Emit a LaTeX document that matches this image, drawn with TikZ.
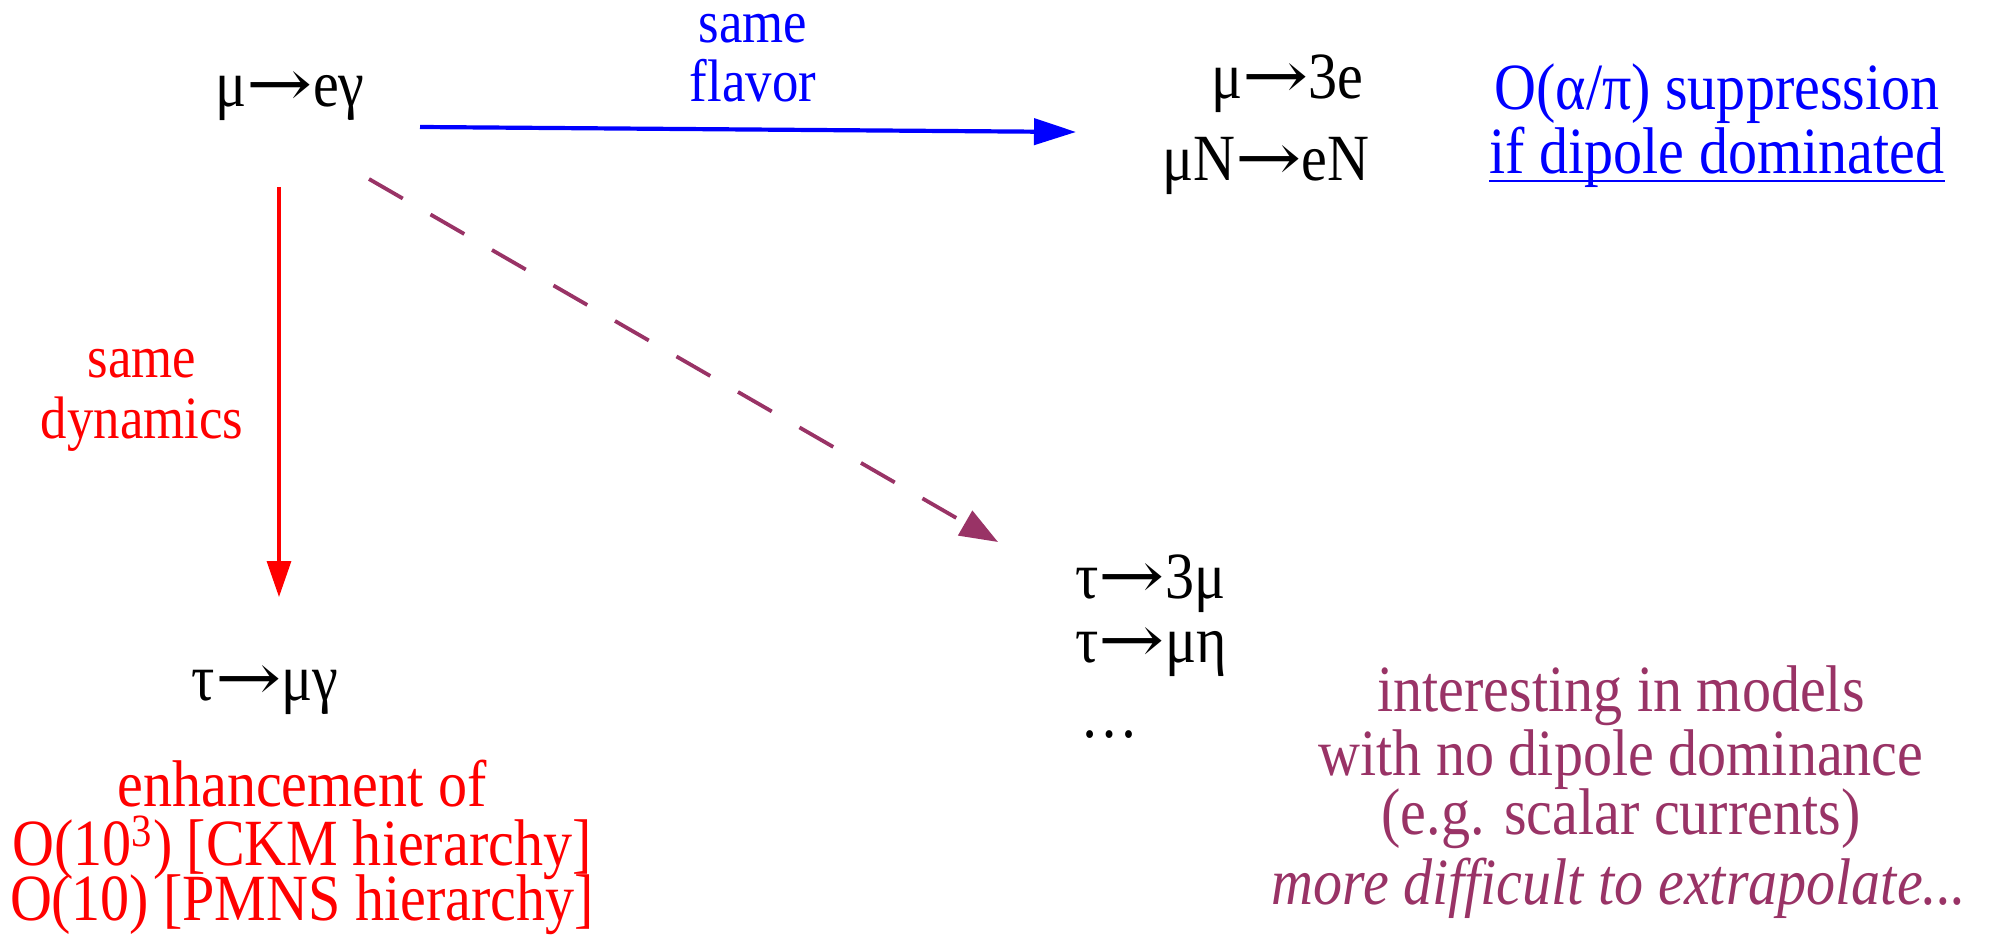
\documentclass[tikz,border=0pt]{standalone}
\usepackage{fontspec}
\setmainfont{Liberation Serif}[FakeStretch=0.88]
\newfontfamily\arrowfont{DejaVu Serif}[FakeStretch=1.2]
\newcommand{\lfvto}{{\arrowfont →}}
\usetikzlibrary{arrows.meta}
\definecolor{lfvblue}{RGB}{0,0,255}
\definecolor{lfvred}{RGB}{255,0,0}
\definecolor{lfvplum}{RGB}{153,51,102}
\begin{document}
\begin{tikzpicture}[x=0.5pt,y=-0.5pt,
  txt/.style={inner sep=0pt, anchor=base, text height=21pt, text depth=6pt, font=\fontsize{33}{38}\selectfont},
  txtw/.style={txt, anchor=base west},
  lbl/.style={inner sep=0pt, anchor=base, text height=15pt, text depth=6pt, font=\fontsize{30}{34}\selectfont},
  bluearrow/.style={draw=lfvblue, line width=2.1pt, -{Triangle[length=21pt,width=13pt]}, lfvblue},
  redarrow/.style={draw=lfvred, line width=1.6pt, -{Triangle[length=18pt,width=12pt]}, lfvred},
  plumarrow/.style={draw=lfvplum, line width=1.9pt, dash pattern=on 19.5pt off 16pt, -{Triangle[length=19pt,width=14pt]}, lfvplum}]
\useasboundingbox (0,0) rectangle (1989,946);

% main process
\node[txt] (meg) at (290,107) {μ\lfvto eγ};

% same flavor
\node[lbl, lfvblue] (sf1) at (753,43) {same};
\node[lbl, lfvblue] (sf2) at (753,102) {flavor};
\node[txt, anchor=base east] (m3e) at (1364,99) {μ\lfvto 3e};
\node[txt, anchor=base east] (mne) at (1370,181) {μN\lfvto eN};
\node[txt, lfvblue] (sup1) at (1717,110) {O(α/π) suppression};
\node[txt, lfvblue] (sup2) at (1717,174) {if dipole dominated};
\draw[lfvblue, line width=1.4pt] ([yshift=-3.5pt]sup2.base west) -- ([yshift=-3.5pt]sup2.base east);

% same dynamics
\node[lbl, lfvred] (sd1) at (142,378) {same};
\node[lbl, lfvred] (sd2) at (142,438) {dynamics};
\node[txt] (tmg) at (265,700) {τ\lfvto μγ};
\node[txt, lfvred] (en1) at (302,806) {enhancement of};
\node[txt, lfvred] (en2) at (302,865) {O(10\textsuperscript{3}) [CKM hierarchy]};
\node[txt, lfvred] (en3) at (302,920) {O(10) [PMNS hierarchy]};

% other tau modes
\node[txtw] (t3m) at (1075,598) {τ\lfvto 3μ};
\node[txtw] (tme) at (1075,662) {τ\lfvto μη};
\node[txtw] (tdots) at (1080,737) {…};
\node[txt, lfvplum] (in1) at (1621,711) {interesting in models};
\node[txt, lfvplum] (in2) at (1621,775) {with no dipole dominance};
\node[txt, lfvplum] (in3) at (1621,834) {(e.g. scalar currents)};
\node[txt, lfvplum] (in4) at (1619,904) {\itshape more difficult to extrapolate...};

% connectors
\coordinate (bs) at (420,127);
\coordinate (be) at (1076,132);
\coordinate (rs) at (279,187);
\coordinate (re) at (279,597);
\coordinate (ps) at (369,179);
\coordinate (pe) at (998,542);
\draw[bluearrow] (bs) -- (be);
\draw[redarrow] (rs) -- (re);
\draw[plumarrow] (ps) -- (pe);
\end{tikzpicture}
\end{document}
